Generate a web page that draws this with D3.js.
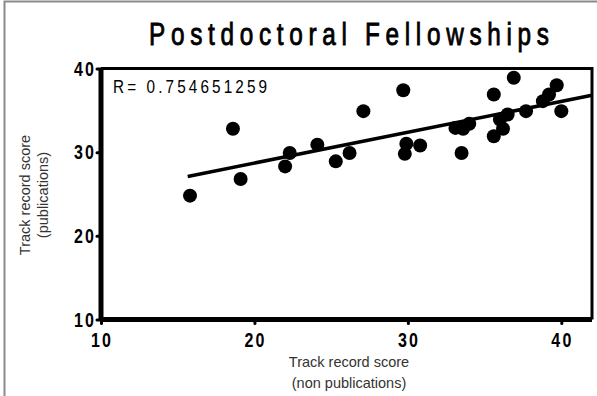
<!DOCTYPE html>
<html><head><meta charset="utf-8">
<script src="https://cdn.jsdelivr.net/npm/d3@7/dist/d3.min.js"></script>
<style>body{margin:0;background:#fff}svg{display:block}</style>
</head><body>
<script>
const title = "Postdoctoral Fellowships";
const rLabel = "R= 0.754651259";
const xTitle = ["Track record score", "(non publications)"];
const yTitle = ["Track record score", "(publications)"];
const xTicks = [10, 20, 30, 40];
const yTicks = [10, 20, 30, 40];
const nonPub = [15.8,18.6,19.1,22.0,22.3,24.1,25.3,26.2,27.1,29.7,29.8,29.9,30.8,33.1,33.6,34.0,33.5,35.6,36.9,36.5,36.0,36.2,35.6,37.7,38.8,39.2,39.7,40.0];
const pub    = [24.8,32.8,26.8,28.3,29.9,30.9,28.9,29.9,34.9,37.4,29.8,31.0,30.8,32.9,32.8,33.4,29.9,36.9,38.9,34.5,33.9,32.8,31.9,34.9,36.1,36.9,38.0,34.9];
const trendX = [15.65, 42];
const trendY = [27.1, 36.8];

const W = 597, H = 396;
const svg = d3.select("body").append("svg").attr("width", W).attr("height", H);
const x = d3.scaleLinear().domain([10, 42]).range([101, 592]);
const y = d3.scaleLinear().domain([10, 40]).range([319.5, 68.5]);
const sans = "'Liberation Sans', Arial, sans-serif";

// condensed text helper: horizontally scaled Liberation Sans, fitted to a width
function ntext(parent, cx, cy, str, o) {
  const sx = o.sx || 0.8;
  const g = parent.append("g").attr("transform", `translate(${cx},${cy}) scale(${sx},1)`);
  const t = g.append("text").attr("x", 0).attr("y", 0).attr("text-anchor", o.anchor || "middle")
    .attr("font-family", sans).attr("font-size", o.size).attr("font-weight", o.weight || "normal")
    .attr("fill", "#000").text(str);
  if (o.stroke) t.attr("stroke", "#000").attr("stroke-width", o.stroke);
  if (o.width) t.attr("textLength", o.width / sx).attr("lengthAdjust", "spacing");
  return t;
}

// outer frame (top and left)
svg.append("path").attr("d", `M4.5,396 V1.5 H597`).attr("fill", "none").attr("stroke", "#8a8a8a").attr("stroke-width", 2);

// title
ntext(svg, 349, 45, title, {size: 32, sx: 0.76, width: 400, stroke: 0.9});

// plot border top/right
svg.append("path").attr("d", `M${x(10)},${y(40)} H${x(42)} V${y(10)}`).attr("fill", "none").attr("stroke", "#000").attr("stroke-width", 3);

// trend line
svg.append("line").attr("x1", x(trendX[0])).attr("y1", y(trendY[0])).attr("x2", x(trendX[1])).attr("y2", y(trendY[1]))
  .attr("stroke", "#000").attr("stroke-width", 3.5);

// points
svg.append("g").selectAll("circle").data(nonPub.map((v, i) => [v, pub[i]])).join("circle")
  .attr("cx", d => x(d[0])).attr("cy", d => y(d[1])).attr("r", 7).attr("fill", "#000");

// axes (lines + tick marks from d3 axes; labels drawn condensed at the axis tick positions)
const xAxis = svg.append("g").attr("transform", `translate(0,${y(10)})`)
  .call(d3.axisBottom(x).tickValues(xTicks).tickSize(4).tickFormat(""));
const yAxis = svg.append("g").attr("transform", `translate(${x(10)},0)`)
  .call(d3.axisLeft(y).tickValues(yTicks).tickSize(4).tickFormat(""));
[xAxis, yAxis].forEach(a => {
  a.select(".domain").attr("stroke", "#000").attr("stroke-width", 5);
  a.selectAll(".tick line").attr("stroke", "#000").attr("stroke-width", 3).attr("stroke-linecap", "round");
});
xAxis.select(".domain").attr("d", `M${x(10)},0H${x(42)}`);
yAxis.select(".domain").attr("d", `M0,${y(10)}V${y(40)}`);
xTicks.forEach(v => ntext(svg, x(v), 347, d3.format("d")(v), {size: 20, sx: 0.8, weight: "bold", width: 20}));
yTicks.forEach(v => ntext(svg, 94, y(v) + 7, d3.format("d")(v), {size: 20, sx: 0.8, weight: "bold", width: 20, anchor: "end"}));

// R label
ntext(svg, 113, 93, rLabel, {size: 18, sx: 0.85, width: 154, anchor: "start"});

// x title
svg.append("text").attr("x", 349).attr("y", 367).attr("text-anchor", "middle").attr("font-family", sans)
  .attr("font-size", 14.5).attr("fill", "#333")
  .selectAll("tspan").data(xTitle).join("tspan").attr("x", 349).attr("dy", (d, i) => i ? 21 : 0).text(d => d);

// y title
svg.append("text").attr("transform", "translate(30,195) rotate(-90)").attr("text-anchor", "middle")
  .attr("font-family", sans).attr("font-size", 14.5).attr("fill", "#333")
  .selectAll("tspan").data(yTitle).join("tspan").attr("x", 0).attr("dy", (d, i) => i ? 18 : 0).text(d => d);
</script>
</body></html>
